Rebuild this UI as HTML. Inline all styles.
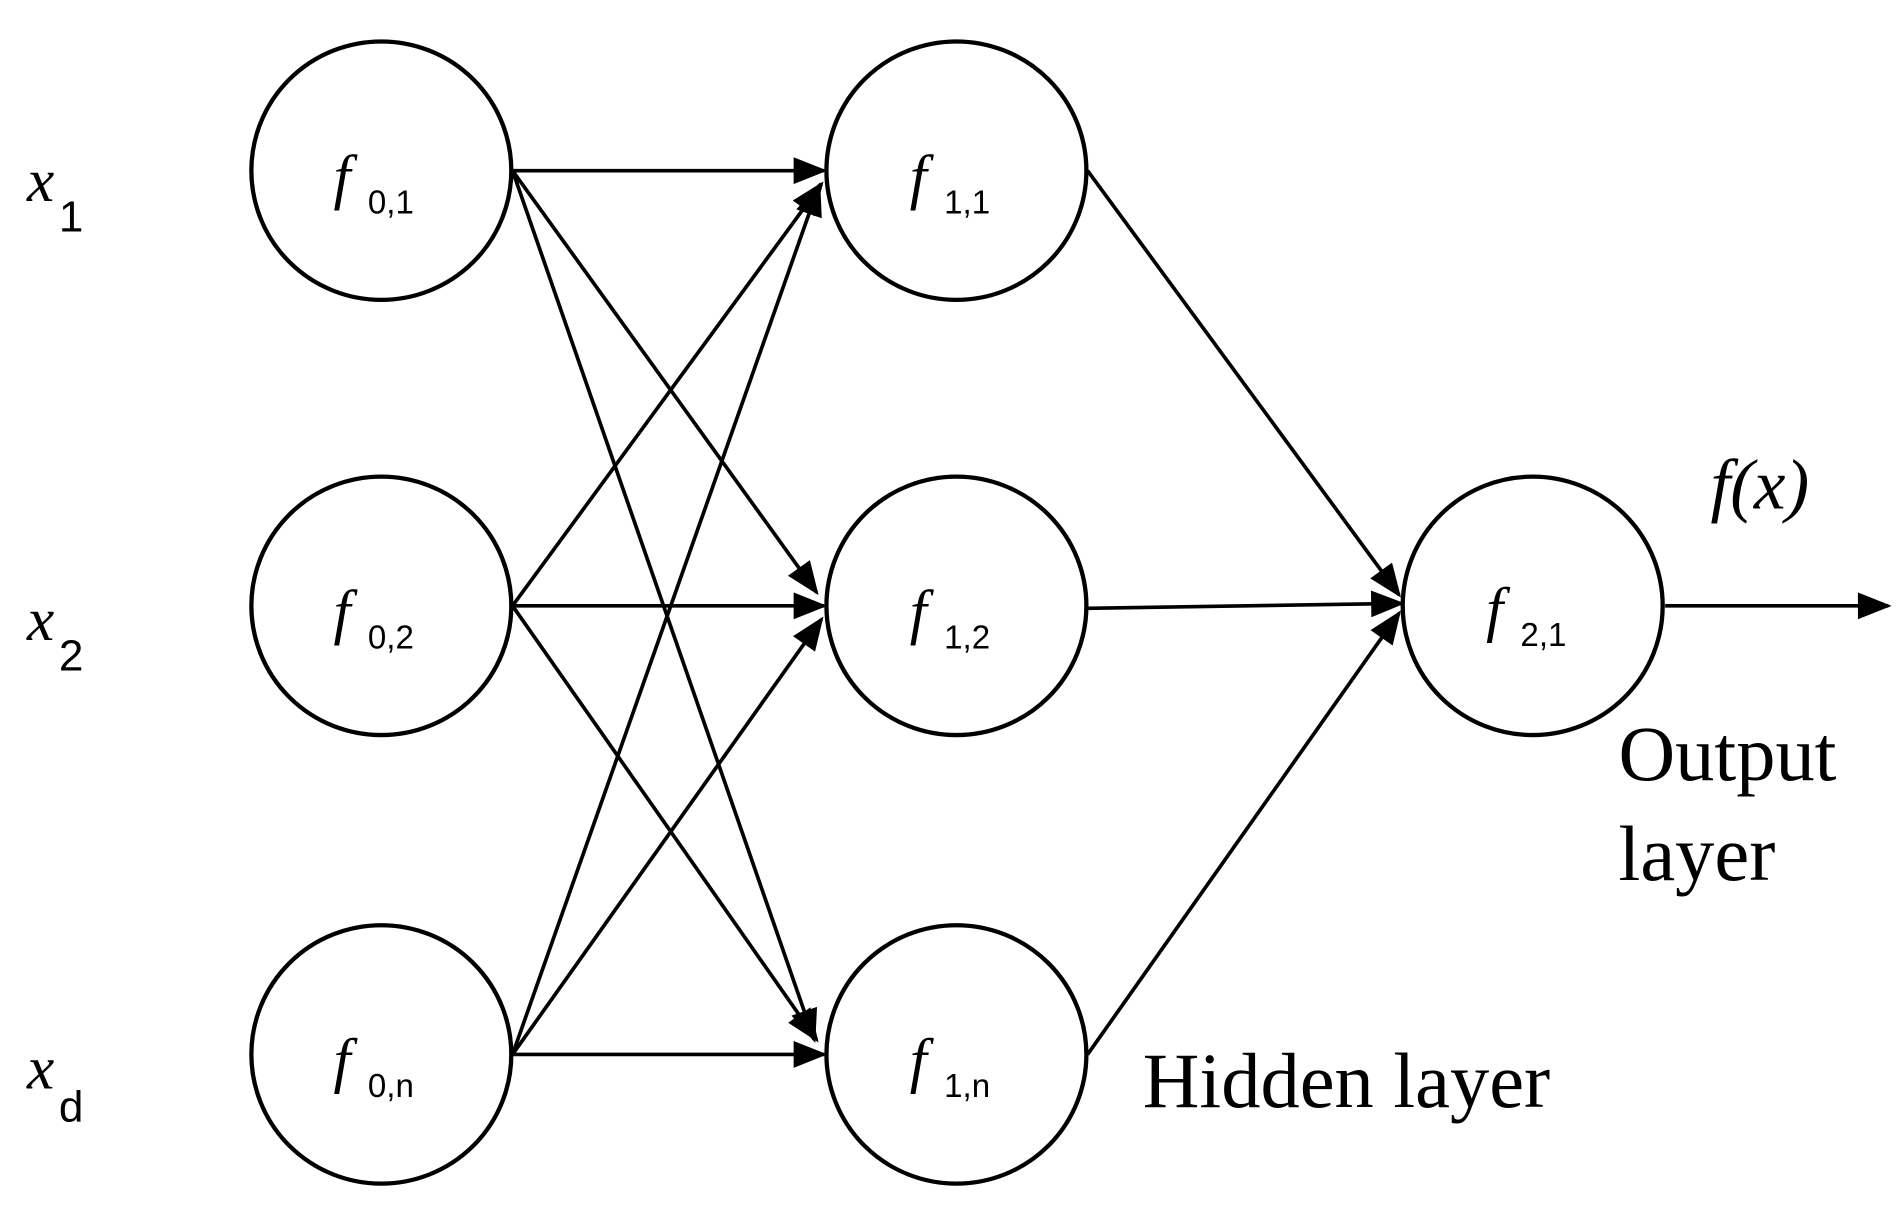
<!DOCTYPE html>
<html><head><meta charset="utf-8"><style>
html,body{margin:0;padding:0;background:#fff;width:1903px;height:1219px;overflow:hidden}
svg{display:block}
.f{font-family:"Liberation Serif",serif;font-style:italic;font-size:50px}
.s{font-family:"Liberation Sans",sans-serif;font-size:27px}
.xs{font-family:"Liberation Sans",sans-serif;font-size:36px}
.t{font-family:"Liberation Serif",serif;font-size:64px}
</style></head><body>
<svg width="1903" height="1219" viewBox="0 0 1552 1000" preserveAspectRatio="none">
<defs><marker id="a" markerWidth="10" markerHeight="8" refX="9" refY="4" orient="auto" markerUnits="userSpaceOnUse" viewBox="0 0 10 8"><path d="M0,0 L10,4 L0,8 z" fill="#000"/></marker>
<marker id="b" viewBox="0 0 10 8" refX="9" refY="4" markerWidth="30" markerHeight="22" orient="auto" markerUnits="userSpaceOnUse"><path d="M0,0 L10,4 L0,8 z" fill="#000"/></marker></defs>
<g fill="none" stroke="#000" stroke-width="3.5">
<circle cx="311" cy="140" r="106"/><circle cx="311" cy="497" r="106"/><circle cx="311" cy="865" r="106"/>
<circle cx="780" cy="140" r="106"/><circle cx="780" cy="497" r="106"/><circle cx="780" cy="865" r="106"/>
<circle cx="1250" cy="497" r="106"/>
</g>
<g stroke="#000" stroke-width="3" marker-end="url(#b)">
<line x1="418" y1="140" x2="672" y2="140"/>
<line x1="418" y1="140" x2="666" y2="486"/>
<line x1="418" y1="140" x2="664" y2="853"/>
<line x1="418" y1="497" x2="670" y2="151"/>
<line x1="418" y1="497" x2="672" y2="497"/>
<line x1="418" y1="497" x2="666" y2="853"/>
<line x1="418" y1="865" x2="668" y2="152"/>
<line x1="418" y1="865" x2="670" y2="508"/>
<line x1="418" y1="865" x2="672" y2="865"/>
<line x1="887" y1="140" x2="1141" y2="488"/>
<line x1="887" y1="499" x2="1143" y2="495"/>
<line x1="887" y1="865" x2="1141" y2="503"/>
<line x1="1358" y1="497" x2="1540" y2="497"/>
</g>
<g fill="#000">
<text class="f" x="22" y="165">x</text><text class="xs" x="48" y="190">1</text>
<text class="f" x="22" y="525">x</text><text class="xs" x="48" y="550">2</text>
<text class="f" x="22" y="893">x</text><text class="xs" x="48" y="920">d</text>
<text class="f" x="272" y="162">f</text><text class="s" x="300" y="175">0,1</text>
<text class="f" x="272" y="519">f</text><text class="s" x="300" y="532">0,2</text>
<text class="f" x="272" y="887">f</text><text class="s" x="300" y="900">0,n</text>
<text class="f" x="742" y="162">f</text><text class="s" x="770" y="175">1,1</text>
<text class="f" x="742" y="519">f</text><text class="s" x="770" y="532">1,2</text>
<text class="f" x="742" y="887">f</text><text class="s" x="770" y="900">1,n</text>
<text class="f" x="1212" y="517">f</text><text class="s" x="1240" y="530">2,1</text>
<text class="f" x="1395" y="417" style="font-size:58px">f(x)</text>
<text class="t" x="1320" y="640">Output</text>
<text class="t" x="1320" y="722">layer</text>
<text class="t" x="932" y="908">Hidden layer</text>
</g>
</svg>
</body></html>
